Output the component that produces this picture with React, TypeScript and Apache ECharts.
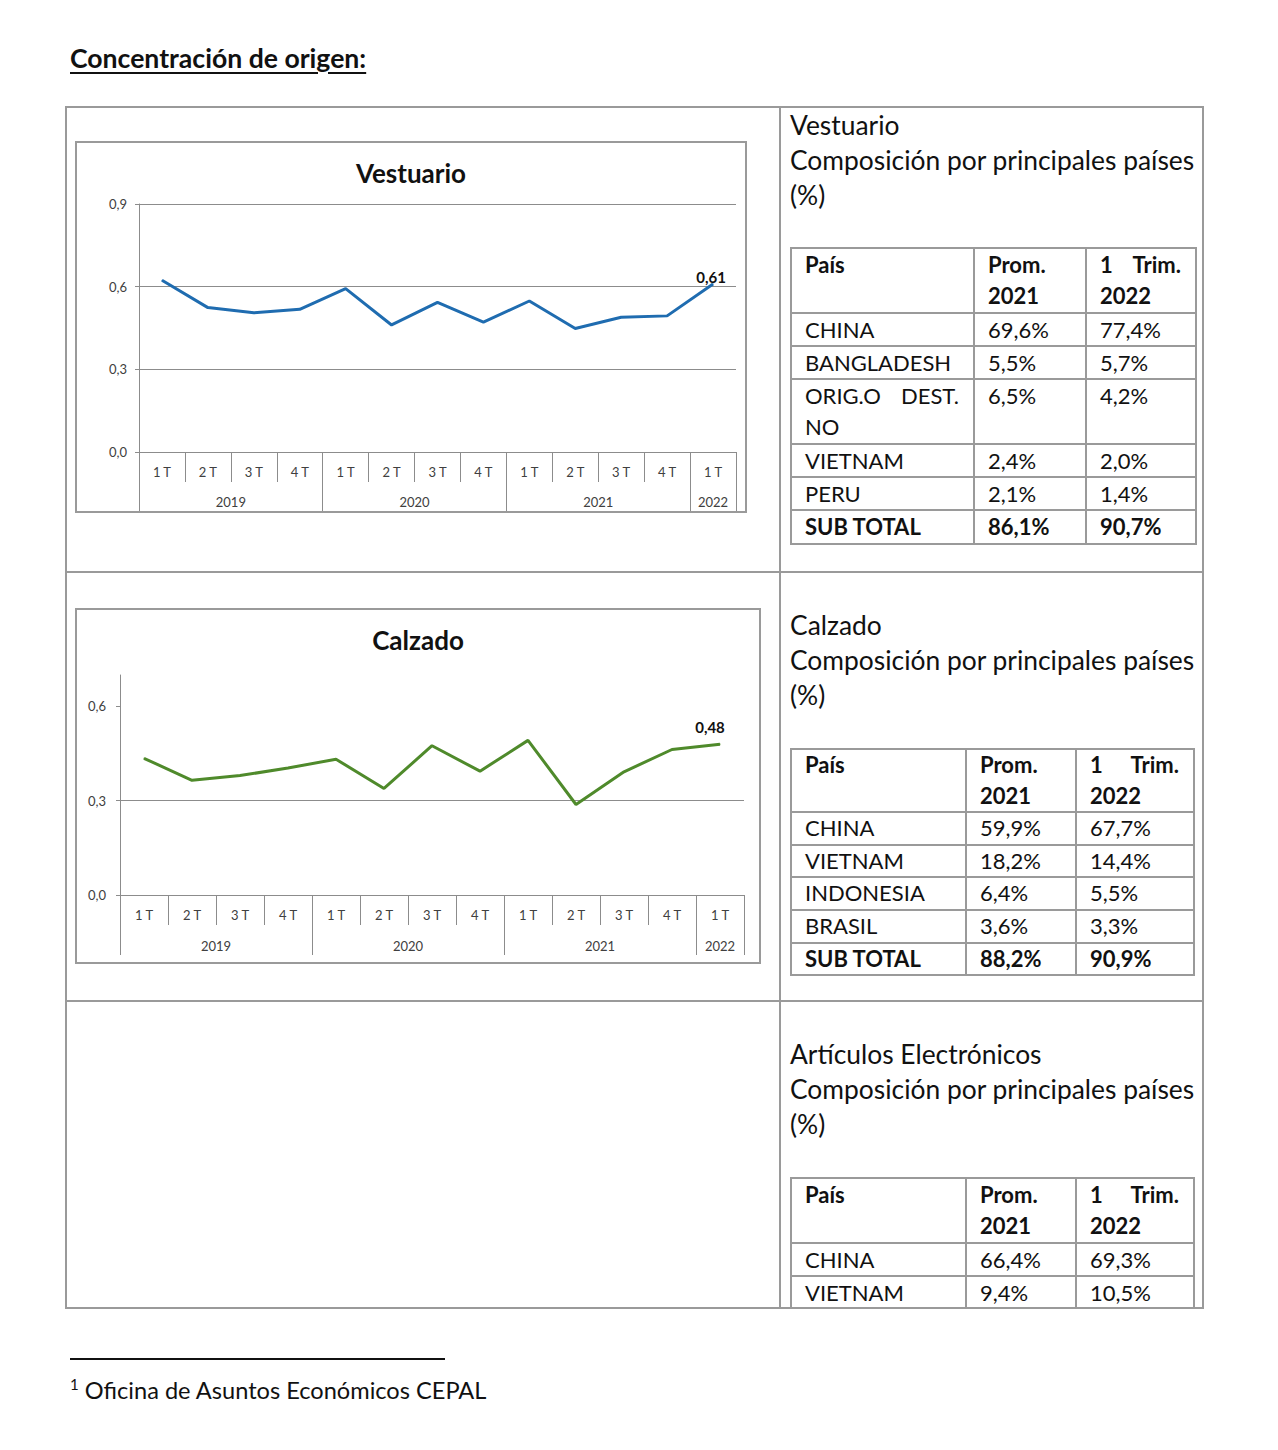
import React, { useEffect, useRef } from "react";
import * as echarts from "echarts";

// ---------- DATA ----------
const quarters = ["1 T", "2 T", "3 T", "4 T", "1 T", "2 T", "3 T", "4 T", "1 T", "2 T", "3 T", "4 T", "1 T"];
const years = ["2019", "2020", "2021", "2022"];
const quartersPerYear = [4, 4, 4, 1];

const vestuarioValues = [0.623, 0.524, 0.505, 0.518, 0.593, 0.461, 0.543, 0.471, 0.548, 0.448, 0.489, 0.494, 0.61];
const calzadoValues = [0.435, 0.365, 0.38, 0.404, 0.432, 0.339, 0.475, 0.394, 0.492, 0.288, 0.392, 0.463, 0.48];

const vestCountries = ["CHINA", "BANGLADESH", "ORIG.O DEST. NO", "VIETNAM", "PERU", "SUB TOTAL"];
const vestProm2021 = [69.6, 5.5, 6.5, 2.4, 2.1, 86.1];
const vestTrim2022 = [77.4, 5.7, 4.2, 2.0, 1.4, 90.7];

const calzCountries = ["CHINA", "VIETNAM", "INDONESIA", "BRASIL", "SUB TOTAL"];
const calzProm2021 = [59.9, 18.2, 6.4, 3.6, 88.2];
const calzTrim2022 = [67.7, 14.4, 5.5, 3.3, 90.9];

const elecCountries = ["CHINA", "VIETNAM"];
const elecProm2021 = [66.4, 9.4];
const elecTrim2022 = [69.3, 10.5];

// ---------- HELPERS ----------
const FONT = "Lato, 'Open Sans', sans-serif";
const GRID_GREY = "#8c8c8c";
const BORDER = "#9a9a9a";

const comma = (v: number, d: number) => v.toFixed(d).replace(".", ",");

function yearTicks() {
  const bounds: number[] = [0];
  const centers: number[] = [];
  let acc = 0;
  quartersPerYear.forEach((n) => {
    centers.push(acc + n / 2);
    acc += n;
    bounds.push(acc);
  });
  return { bounds, centers, total: acc };
}

function makeOption(cfg: {
  title: string;
  values: number[];
  color: string;
  yMax: number;
  yLabels: number[];
  grid: { left: number; right: number; top: number; bottom: number };
  qTick: number;
  yTick: number;
  qMargin: number;
  yMargin: number;
  yLabelMargin: number;
  labelOffset: number[];
}) {
  const { bounds, centers, total } = yearTicks();
  const data = cfg.values.map((v, i) =>
    i === cfg.values.length - 1
      ? {
          value: v,
          label: {
            show: true,
            position: "top",
            distance: 0,
            offset: cfg.labelOffset,
            formatter: () => comma(v, 2),
            fontFamily: FONT,
            fontWeight: "bold",
            fontSize: 15,
            color: "#111",
          },
        }
      : v
  );
  return {
    animation: false,
    title: {
      text: cfg.title,
      left: "center",
      top: 14,
      textStyle: { fontFamily: FONT, fontSize: 26, fontWeight: "bold", color: "#111" },
    },
    grid: { ...cfg.grid, containLabel: false },
    xAxis: [
      {
        type: "category",
        data: quarters,
        position: "bottom",
        axisLine: { show: true, onZero: false, lineStyle: { color: GRID_GREY, width: 1 } },
        axisTick: { show: true, interval: 0, length: cfg.qTick, lineStyle: { color: GRID_GREY } },
        axisLabel: { interval: 0, margin: cfg.qMargin, fontFamily: FONT, fontSize: 13, color: "#404040" },
        splitLine: { show: false },
      },
      {
        type: "value",
        min: 0,
        max: total,
        position: "bottom",
        axisLine: { show: false, onZero: false },
        splitLine: { show: false },
        axisTick: { show: true, customValues: bounds, length: cfg.yTick, lineStyle: { color: GRID_GREY } },
        axisLabel: {
          customValues: centers,
          margin: cfg.yMargin,
          fontFamily: FONT,
          fontSize: 13,
          color: "#404040",
          formatter: (v: number) => {
            const idx = centers.findIndex((c) => Math.abs(c - v) < 1e-6);
            return idx >= 0 ? years[idx] : "";
          },
        },
      },
    ],
    yAxis: {
      type: "value",
      min: 0,
      max: cfg.yMax,
      interval: 0.3,
      axisLine: { show: true, lineStyle: { color: GRID_GREY } },
      axisTick: { show: true, length: 4, customValues: cfg.yLabels, lineStyle: { color: GRID_GREY } },
      splitLine: { show: true, showMaxLine: cfg.yLabels[cfg.yLabels.length - 1] === cfg.yMax, lineStyle: { color: GRID_GREY, width: 1 } },
      axisLabel: {
        customValues: cfg.yLabels,
        margin: cfg.yLabelMargin,
        fontFamily: FONT,
        fontSize: 13,
        color: "#404040",
        formatter: (v: number) => comma(v, 1),
      },
    },
    series: [
      {
        type: "line",
        xAxisIndex: 0,
        data,
        symbol: "circle",
        symbolSize: 1,
        itemStyle: { color: cfg.color },
        lineStyle: { color: cfg.color, width: 3 },
        z: 5,
      },
    ],
  };
}

function Chart({ option, width, height }: { option: any; width: number; height: number }) {
  const ref = useRef<HTMLDivElement>(null);
  useEffect(() => {
    if (!ref.current) return;
    const chart = echarts.init(ref.current, null, { renderer: "svg", width, height });
    chart.setOption(option);
    return () => chart.dispose();
  }, [option, width, height]);
  return <div ref={ref} style={{ width, height }} />;
}

const abs = (left: number, top: number, extra: React.CSSProperties = {}): React.CSSProperties => ({
  position: "absolute",
  left,
  top,
  ...extra,
});

function CountryTable({
  left,
  top,
  widths,
  countries,
  prom,
  trim,
  boldLast,
  lineHeight,
}: {
  left: number;
  top: number;
  widths: number[];
  countries: string[];
  prom: number[];
  trim: number[];
  boldLast: boolean;
  lineHeight: number;
}) {
  const cell = (bold: boolean): React.CSSProperties => ({
    border: `2px solid ${BORDER}`,
    padding: "0 14px 0 13px",
    verticalAlign: "top",
    textAlign: "justify",
    fontWeight: bold ? 700 : 400,
    lineHeight: `${lineHeight}px`,
  });
  return (
    <table
      style={{
        ...abs(left, top),
        borderCollapse: "collapse",
        tableLayout: "fixed",
        width: widths.reduce((a, b) => a + b, 0),
        fontFamily: FONT,
        fontSize: 22,
        color: "#111",
      }}
    >
      <colgroup>
        {widths.map((w, i) => (
          <col key={i} style={{ width: w }} />
        ))}
      </colgroup>
      <tbody>
        <tr>
          <td style={cell(true)}>País</td>
          <td style={cell(true)}>Prom. 2021</td>
          <td style={cell(true)}>1 Trim. 2022</td>
        </tr>
        {countries.map((c, i) => {
          const b = boldLast && i === countries.length - 1;
          return (
            <tr key={i}>
              <td style={cell(b)}>{c}</td>
              <td style={cell(b)}>{comma(prom[i], 1)}%</td>
              <td style={cell(b)}>{comma(trim[i], 1)}%</td>
            </tr>
          );
        })}
      </tbody>
    </table>
  );
}

function Heading({ left, top, title }: { left: number; top: number; title: string }) {
  return (
    <div style={abs(left, top, { fontFamily: FONT, fontSize: 26.4, lineHeight: "35px", color: "#111", whiteSpace: "nowrap" })}>
      <div>{title}</div>
      <div>Composición por principales países</div>
      <div>(%)</div>
    </div>
  );
}

const vestOption = makeOption({
  title: "Vestuario",
  values: vestuarioValues,
  color: "#1f6cb0",
  yMax: 0.9,
  yLabels: [0, 0.3, 0.6, 0.9],
  grid: { left: 64, right: 11, top: 63, bottom: 61 },
  qTick: 30,
  yTick: 61,
  qMargin: 13,
  yMargin: 43,
  yLabelMargin: 12,
  labelOffset: [-2, 1],
});

const calzOption = makeOption({
  title: "Calzado",
  values: calzadoValues,
  color: "#4f8a2b",
  yMax: 0.7,
  yLabels: [0, 0.3, 0.6],
  grid: { left: 45, right: 17, top: 67, bottom: 69 },
  qTick: 30,
  yTick: 60,
  qMargin: 13,
  yMargin: 44,
  yLabelMargin: 14,
  labelOffset: [-10, -9],
});

export default function App() {
  return (
    <div style={{ position: "absolute", left: 0, top: 0, width: 1278, height: 1450, background: "#fff", overflow: "hidden" }}>
      {/* Page title */}
      <div
        style={abs(70, 41, {
          fontFamily: FONT,
          fontSize: 26.6,
          fontWeight: 700,
          textDecoration: "underline",
          textDecorationThickness: 2,
          textUnderlineOffset: 4,
          color: "#111",
          whiteSpace: "nowrap",
          lineHeight: "34px",
        })}
      >
        Concentración de origen:
      </div>

      {/* Outer layout table */}
      <div style={abs(65, 106, { width: 1139, height: 1203, border: `2px solid ${BORDER}`, boxSizing: "border-box" })} />
      <div style={abs(779, 106, { width: 2, height: 1203, background: BORDER })} />
      <div style={abs(65, 571, { width: 1139, height: 2, background: BORDER })} />
      <div style={abs(65, 1000, { width: 1139, height: 2, background: BORDER })} />

      {/* Vestuario chart */}
      <div style={abs(75, 141, { width: 672, height: 372, border: `2px solid ${BORDER}`, boxSizing: "border-box", overflow: "hidden" })}>
        <div style={{ position: "absolute", left: -2, top: -2 }}>
          <Chart option={vestOption} width={672} height={372} />
        </div>
      </div>

      {/* Calzado chart */}
      <div style={abs(75, 608, { width: 686, height: 356, border: `2px solid ${BORDER}`, boxSizing: "border-box", overflow: "hidden" })}>
        <div style={{ position: "absolute", left: -2, top: -2 }}>
          <Chart option={calzOption} width={686} height={356} />
        </div>
      </div>

      {/* Right column */}
      <Heading left={790} top={108} title="Vestuario" />
      <CountryTable left={790} top={247} widths={[183, 112, 110]} countries={vestCountries} prom={vestProm2021} trim={vestTrim2022} boldLast lineHeight={31.3} />

      <Heading left={790} top={608} title="Calzado" />
      <CountryTable left={790} top={748} widths={[175, 110, 118]} countries={calzCountries} prom={calzProm2021} trim={calzTrim2022} boldLast lineHeight={30.6} />

      <Heading left={790} top={1037} title="Artículos Electrónicos" />
      <div style={abs(780, 1177, { width: 424, height: 132, overflow: "hidden" })}>
        <CountryTable left={10} top={0} widths={[175, 110, 118]} countries={elecCountries} prom={elecProm2021} trim={elecTrim2022} boldLast={false} lineHeight={31.3} />
      </div>

      {/* Footnote */}
      <div style={abs(70, 1358, { width: 375, height: 2, background: "#111" })} />
      <div style={abs(70, 1374, { fontFamily: FONT, fontSize: 23.6, color: "#111", whiteSpace: "nowrap", lineHeight: "32px" })}>
        <sup style={{ fontSize: 15, verticalAlign: "top", lineHeight: "20px" }}>1</sup> Oficina de Asuntos Económicos CEPAL
      </div>
    </div>
  );
}
